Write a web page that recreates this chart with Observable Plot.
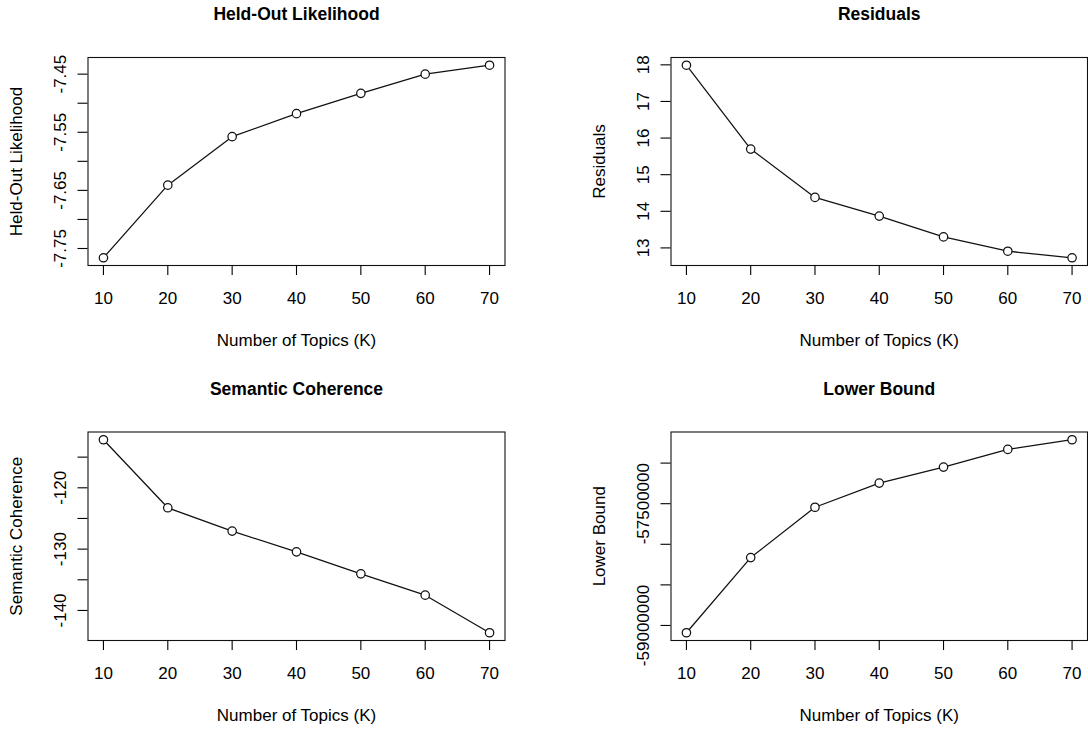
<!DOCTYPE html>
<html><head><meta charset="utf-8">
<script src="https://cdn.jsdelivr.net/npm/d3@7"></script>
<script src="https://cdn.jsdelivr.net/npm/@observablehq/plot@0.6"></script>
<style>
html,body{margin:0;padding:0;background:#fff;}
#root{position:relative;width:1088px;height:729px;overflow:hidden;background:#fff;}
#root svg{position:absolute;}
</style></head><body><div id="root"></div>
<script>
const topicsK = [10, 20, 30, 40, 50, 60, 70];
const heldOut = [-7.766, -7.641, -7.5575, -7.518, -7.483, -7.450, -7.4346];
const residuals = [17.99, 15.70, 14.38, 13.87, 13.30, 12.91, 12.73];
const semCoh = [-112.16, -123.26, -127.06, -130.44, -134.03, -137.51, -143.64];
const lowerBound = [-59090000, -58164000, -57544000, -57246000, -57049000, -56831000, -56712000];

const xTicks = [10, 20, 30, 40, 50, 60, 70];
const heldOutTicks = [-7.75, -7.70, -7.65, -7.60, -7.55, -7.50, -7.45];
const heldOutLabels = ["-7.75", "", "-7.65", "", "-7.55", "", "-7.45"];
const residualTicks = [13, 14, 15, 16, 17, 18];
const residualLabels = ["13", "14", "15", "16", "17", "18"];
const semTicks = [-140, -135, -130, -125, -120, -115];
const semLabels = ["-140", "", "-130", "", "-120", ""];
const lbTicks = [-59000000, -58500000, -58000000, -57500000, -57000000];
const lbLabels = ["-59000000", "", "", "-57500000", ""];

const titles = ["Held-Out Likelihood", "Residuals", "Semantic Coherence", "Lower Bound"];
const yLabels = ["Held-Out Likelihood", "Residuals", "Semantic Coherence", "Lower Bound"];
const xLabel = "Number of Topics (K)";

function rDomain(vals) {
  const [a, b] = d3.extent(vals);
  const p = (b - a) * 0.04;
  return [a - p, b + p];
}

function panel({values, ticks, labels, title, ylab, left, top, ml, mr, mt, mb}) {
  const data = topicsK.map((k, i) => ({k, v: values[i]}));
  const chart = Plot.plot({
    width: 544, height: 364,
    marginLeft: ml, marginRight: mr, marginTop: mt, marginBottom: mb,
    style: {fontFamily: "'Liberation Sans', Arial, Helvetica, sans-serif", fontSize: "17px", background: "white", color: "black", overflow: "visible"},
    x: {domain: rDomain(topicsK)},
    y: {domain: rDomain(values)},
    marks: [
      Plot.frame({stroke: "#111", strokeWidth: 1.1}),
      Plot.axisX(xTicks, {tickSize: 10, tickPadding: 16, label: null, tickFormat: d => String(d), strokeWidth: 1.1}),
      Plot.axisY(ticks, {tickSize: 10, tickPadding: 12.5, tickRotate: -90, label: null, strokeWidth: 1.1,
        tickFormat: d => labels[ticks.indexOf(d)]}),
      Plot.line(data, {x: "k", y: "v", stroke: "#111", strokeWidth: 1.25}),
      Plot.dot(data, {x: "k", y: "v", r: 4.2, stroke: "#111", fill: "white", strokeWidth: 1.25}),
      Plot.text([title], {frameAnchor: "top", dy: -43, fontWeight: "bold", fontSize: 17.5, lineAnchor: "middle"}),
      Plot.text([xLabel], {frameAnchor: "bottom", dy: 80, lineAnchor: "bottom"}),
      Plot.text([ylab], {frameAnchor: "left", dx: -71, rotate: -90, textAnchor: "middle", lineAnchor: "middle"})
    ]
  });
  chart.style.left = left + "px";
  chart.style.top = top + "px";
  document.getElementById("root").appendChild(chart);
}

panel({values: heldOut, ticks: heldOutTicks, labels: heldOutLabels, title: titles[0], ylab: yLabels[0],
  left: 0, top: 0, ml: 87.5, mr: 39.5, mt: 57, mb: 99});
panel({values: residuals, ticks: residualTicks, labels: residualLabels, title: titles[1], ylab: yLabels[1],
  left: 544, top: 0, ml: 126.5, mr: 1, mt: 57, mb: 99});
panel({values: semCoh, ticks: semTicks, labels: semLabels, title: titles[2], ylab: yLabels[2],
  left: 0, top: 364, ml: 87.5, mr: 39.5, mt: 67.5, mb: 88});
panel({values: lowerBound, ticks: lbTicks, labels: lbLabels, title: titles[3], ylab: yLabels[3],
  left: 544, top: 364, ml: 126.5, mr: 1, mt: 67.5, mb: 88});
</script>
</body></html>
